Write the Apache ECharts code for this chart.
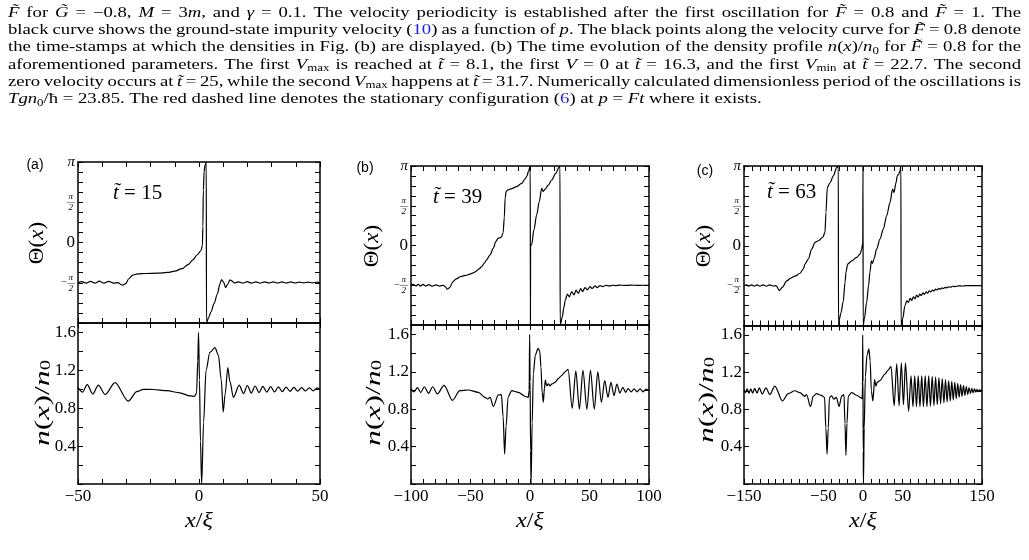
<!DOCTYPE html>
<html>
<head>
<meta charset="utf-8">
<script src="https://cdn.jsdelivr.net/npm/echarts@6/dist/echarts.min.js"></script>
<style>
  html, body { margin: 0; padding: 0; background: #fff; }
  #chart { width: 1029px; height: 560px; }
</style>
</head>
<body>
<div id="chart"></div>
<script>
// ---- data (phase in units of pi) ----
const phaseA = [
  [-50,-0.5],[-48.4,-0.486],[-46.6,-0.504],[-44.8,-0.483],[-43,-0.504],[-41.2,-0.481],[-39.3,-0.504],[-37.3,-0.483],[-35.3,-0.505],[-33.6,-0.498],[-31.7,-0.53],[-30.3,-0.512],[-29,-0.45],[-27.4,-0.405],[-25.4,-0.39],[-22,-0.385],[-17,-0.381],[-13,-0.372],[-10,-0.356],[-7,-0.325],[-4.5,-0.275],[-2.5,-0.215],[-0.8,-0.155],[0.8,-0.1],[1.4,-0.04],[1.6,0.2],[1.8,0.65],[2.1,0.88],[2.5,0.96],[3,1],
  [3.1,-1],[4,-0.93],[5,-0.86],[6.2,-0.76],[7.6,-0.64],[8.6,-0.52],[9.3,-0.46],[10.1,-0.49],[11,-0.56],[11.8,-0.52],[12.8,-0.465],[13.7,-0.48],[14.6,-0.502],
  [16.3,-0.488],[18.1,-0.505],[19.9,-0.487],[21.7,-0.504],[23.5,-0.488],[25.3,-0.504],[27.1,-0.489],[28.9,-0.503],[30.7,-0.49],[32.5,-0.503],[34.3,-0.49],[36.1,-0.503],[37.9,-0.49],[39.7,-0.503],[41.5,-0.491],[43.3,-0.502],[45.1,-0.491],[46.9,-0.502],[48.7,-0.492],[50,-0.498]
];
const densA = [
  [-50,1.02],[-48.1,0.97],[-46.2,1.05],[-43.9,0.95],[-41.6,1.045],[-38.8,0.945],[-34.7,1.07],[-29.2,0.875],[-25.7,0.975],[-23,1.0],[-18.9,0.998],[-13.3,0.985],[-7.9,0.963],[-3.7,0.93],[-1.9,0.925],[-1,0.96],[-0.5,1.3],[-0.2,1.6],[0.2,1.1],[0.6,0.45],[1.1,0],[1.9,0.65],[2.9,1.2],[4.5,1.39],[6.6,1.44],[8,1.36],[9.2,1.1],[10,0.76],[10.8,0.95],[11.9,1.23],[12.8,1.08],[14.2,0.915],
  [16.6,1.045],[18.4,0.955],[20,1.04],[21.6,0.96],[23.2,1.035],[24.8,0.965],[26.4,1.03],[28,0.97],[29.6,1.028],[31.2,0.972],[32.8,1.025],[34.4,0.975],[36,1.022],[37.6,0.978],[39.2,1.02],[40.8,0.98],[42.4,1.018],[44,0.982],[45.6,1.016],[47.2,0.984],[48.8,1.015],[50,0.995]
];
const phaseB = [
  [-100,-0.5],[-98,-0.488],[-96,-0.508],[-94,-0.49],[-92,-0.51],[-90,-0.49],[-87.5,-0.51],[-85,-0.492],[-82,-0.512],[-79,-0.495],[-76,-0.51],[-73,-0.5],[-71,-0.52],[-69.5,-0.55],[-67.5,-0.53],[-65,-0.46],[-62,-0.42],[-58,-0.39],[-54,-0.375],[-50.4,-0.36],[-47,-0.34],[-44.8,-0.318],[-42.5,-0.29],[-40.6,-0.264],[-38.5,-0.225],[-36.4,-0.18],[-33.6,-0.117],[-30.8,-0.033],[-28.8,0.05],[-26.6,0.092],[-24,0.105],[-22.6,0.16],[-21.6,0.35],[-20.9,0.6],[-20,0.68],[-18.5,0.7],[-15.4,0.715],[-11.2,0.741],[-7,0.782],[-4.5,0.83],[-2.8,0.866],[-1.2,0.935],[0.2,1],
  [0.35,-1],[0.5,0],[1.4,0.01],[3.3,0.197],[5.6,0.385],[7.8,0.552],[9.8,0.72],[11,0.68],[12.6,0.707],[15.4,0.76],[18.2,0.824],[21.6,0.908],[24.6,0.99],[25.2,1],
  [25.35,-1],[27.1,-0.9],[28.5,-0.777],[29.6,-0.69],[31.4,-0.612],[33.1,-0.645],[35,-0.579],[37,-0.62],[38.7,-0.562],[40.6,-0.604],[42.6,-0.541],[44.3,-0.579],[46.2,-0.529],[48.2,-0.558],[50.4,-0.517],[52.3,-0.541],[54.6,-0.508],[56.5,-0.529],[58.8,-0.504],[61,-0.517],[63.8,-0.5],[66.6,-0.51],[69.5,-0.5],[72,-0.505],[75,-0.498],[80,-0.502],[85,-0.499],[90,-0.501],[95,-0.5],[100,-0.5]
];
const densB = [
  [-100,1.016],[-97.5,0.985],[-94.6,1.03],[-91.8,0.978],[-88.8,1.04],[-85.2,0.97],[-81.8,1.04],[-77.9,0.963],[-72.2,1.055],[-65.2,0.895],[-59,0.998],[-52,1.005],[-43.4,0.98],[-37.8,0.927],[-35.6,0.909],[-33.6,0.927],[-30.8,0.83],[-26.6,0.952],[-24,0.955],[-22.6,0.72],[-21.3,0.32],[-20.1,0.62],[-18.4,0.93],[-15.4,0.998],[-9.8,0.98],[-4.2,0.938],[-1.4,0.927],[-0.7,1.0],[-0.3,1.6],[0.1,1.1],[0.5,0.35],[0.9,0],[1.8,0.65],[2.8,1.18],[4.5,1.38],[6.8,1.45],[8.2,1.42],[9.2,1.25],[10.2,0.98],[11.2,0.875],[12.1,1.02],[12.9,1.11],[14,1.05],[15.4,1.07],[16.8,1.05],[18.5,1.07],[21,1.087],[24,1.13],[26.6,1.16],[29.5,1.2],[32,1.225],
  [35.5,0.81],[38.5,1.21],[41.5,0.8],[44.5,1.215],[47.8,0.8],[50.8,1.215],[54,0.8],[57,1.2],[60,0.873],[62.8,1.105],[65.5,0.927],[68,1.087],[70.6,0.945],[73,1.069],[75.5,0.973],[78,1.034],[80.3,0.98],[82.5,1.02],[85,0.985],[87.5,1.018],[90,0.986],[92.5,1.016],[95,0.986],[97.5,1.015],[100,1.0]
];
const phaseC = [
  [-150,-0.5],[-147,-0.49],[-144,-0.508],[-140.5,-0.49],[-137,-0.508],[-133.5,-0.49],[-130,-0.508],[-126,-0.49],[-122,-0.508],[-117.5,-0.49],[-113,-0.505],[-109.5,-0.5],[-105.5,-0.562],[-101.5,-0.52],[-96.2,-0.44],[-91,-0.405],[-85.7,-0.38],[-79.4,-0.345],[-75.2,-0.29],[-73.1,-0.229],[-68.9,-0.167],[-64.7,-0.042],[-60.5,0.042],[-56.3,0.0625],[-50.9,0.104],[-47.9,0.167],[-46.7,0.417],[-45,0.729],[-41.6,0.79],[-37.4,0.875],[-33.2,0.98],[-31.1,1],
  [-30.9,-1],[-29.9,-0.925],[-27.8,-0.84],[-25,-0.7],[-22.5,-0.45],[-21.5,-0.33],[-19.3,-0.23],[-14.2,-0.19],[-7.9,-0.146],[-3.7,-0.104],[-1.6,-0.042],[-0.3,0.04],[0,1],
  [0.2,-1],[1.7,-0.916],[4.6,-0.71],[7,-0.5],[8.8,-0.33],[10.5,-0.19],[12,-0.22],[14,-0.16],[17.2,-0.04],[21.4,0.083],[25.6,0.208],[29.8,0.375],[34,0.54],[37.3,0.71],[39,0.667],[41.6,0.79],[43.2,0.875],[44.9,0.896],[46.6,0.94],[47.8,1],
  [48,-1],[50,-0.916],[52.9,-0.75],[55.1,-0.69],[57.2,-0.71],[59.5,-0.66],[61.5,-0.685],[63.5,-0.64],[65.5,-0.665],[67.5,-0.62],[69.5,-0.645],[71.5,-0.605],[73.5,-0.625],[75.5,-0.59],[77.5,-0.61],[79.5,-0.578],[81.5,-0.595],[83.5,-0.565],[85.5,-0.58],[87.5,-0.555],[89.5,-0.567],[91.5,-0.545],[93.5,-0.555],[95.5,-0.535],[97.5,-0.545],[99.5,-0.528],[101.5,-0.536],[103.5,-0.522],[105.5,-0.528],[108,-0.515],[110.5,-0.52],[113,-0.508],[116,-0.512],[120,-0.503],[125,-0.505],[130,-0.5],[150,-0.5]
];
const densC = [
  [-150,1.01],[-148.2,0.98],[-146,1.02],[-143.7,0.975],[-141.5,1.02],[-139,0.975],[-136.5,1.025],[-133.5,0.975],[-130.8,1.03],[-127,0.965],[-122.4,1.03],[-117.4,0.96],[-111.1,1.05],[-101.5,0.89],[-94.3,0.97],[-85.9,1.0],[-79.6,0.98],[-73.3,0.94],[-71.2,0.96],[-66.1,0.83],[-62.8,0.94],[-58.6,0.97],[-52.3,0.95],[-48.5,0.93],[-46.8,0.6],[-45.3,0.32],[-43.8,0.6],[-42.3,0.93],[-39.6,0.945],[-36.8,0.91],[-33.5,0.93],[-30.2,0.83],[-26.8,0.945],[-24,0.96],[-22.7,0.65],[-21.5,0.31],[-20.2,0.65],[-18.5,0.945],[-14.3,0.98],[-8,0.952],[-3,0.927],[-1,0.915],[-0.6,1.05],[-0.4,1.6],[0,1.1],[0.3,0.35],[0.6,0],[1.5,0.6],[3,1.15],[5,1.38],[7.5,1.45],[9,1.32],[10.5,1.0],[12.5,0.89],[14.6,1.12],[16.2,1.05],[17.8,1.09],[21.4,1.11],[27.7,1.18],[31.5,1.22],[35.3,1.26],
  [39.3,0.84],[42.5,1.29],[45.5,0.84],[48.3,1.3],[51,0.85],[53.5,1.3],[57.5,0.78],
  [60.5,1.16],[63,0.83],[65.2,1.16],[67.4,0.83],[69.6,1.16],[71.8,0.83],[74,1.16],[76.2,0.83],[78.4,1.16],[80.6,0.83],[82.8,1.16],[85,0.835],[87.2,1.155],[89.4,0.84],[91.5,1.15],[93.6,0.85],[95.7,1.14],[97.8,0.86],[99.9,1.13],[102,0.87],[104,1.12],[106,0.88],[108,1.11],[110,0.89],[111.9,1.1],[113.8,0.9],[115.7,1.09],[117.6,0.915],[119.4,1.08],[121.2,0.93],[123,1.065],[124.8,0.94],[126.6,1.055],[128.4,0.95],[130.2,1.045],[132,0.96],[133.7,1.035],[135.4,0.97],[137.1,1.025],[138.8,0.978],[140.5,1.02],[142.2,0.985],[143.9,1.015],[145.6,0.99],[147.3,1.01],[149,0.994],[150,1.004]
];

// tick labels shown on the x axes
const xLabelsA = [-50, 0, 50];
const xLabelsB = [-100, -50, 0, 50, 100];
const xLabelsC = [-150, -50, 0, 50, 150];
const timeLabels = ['15', '39', '63'];
const panelTags = ['(a)', '(b)', '(c)'];

const captionLines = [
  '{i|F̃} for {i|G̃} = −0.8, {i|M} = 3{i|m}, and {i|γ} = 0.1. The velocity periodicity is established after the first oscillation for {i|F̃} = 0.8 and {i|F̃} = 1. The',
  'black curve shows the ground-state impurity velocity ({b|10}) as a function of {i|p}. The black points along the velocity curve for {i|F̃} = 0.8 denote',
  'the time-stamps at which the densities in Fig. (b) are displayed. (b) The time evolution of the density profile {i|n}({i|x})/{i|n}{s|0} for {i|F̃} = 0.8 for the',
  'aforementioned parameters. The first {i|V}{s|max} is reached at {i|t̃} = 8.1, the first {i|V} = 0 at {i|t̃} = 16.3, and the first {i|V}{s|min} at {i|t̃} = 22.7. The second',
  'zero velocity occurs at {i|t̃} = 25, while the second {i|V}{s|max} happens at {i|t̃} = 31.7. Numerically calculated dimensionless period of the oscillations is',
  '{i|Tgn}{s|0}/ħ = 23.85. The red dashed line denotes the stationary configuration ({b|6}) at {i|p} = {i|Ft} where it exists.'
];

// ---- layout ----
const SERIF = 'Liberation Serif';
const panels = [
  { left: 78,  width: 242, top: 162, mid: 323,   bottom: 484, xMin: -50,  xMax: 50,  xLabels: xLabelsA, phase: phaseA, dens: densA,
    tag: [35, 165], time: [113, 193], theta: [37, 243], nlab: [43, 403], xlab: [199, 521] },
  { left: 411, width: 238, top: 166, mid: 325,   bottom: 484, xMin: -100, xMax: 100, xLabels: xLabelsB, phase: phaseB, dens: densB,
    tag: [365, 168], time: [433, 197], theta: [372, 246], nlab: [374, 403], xlab: [530, 521] },
  { left: 744, width: 238, top: 166, mid: 325.5, bottom: 484, xMin: -150, xMax: 150, xLabels: xLabelsC, phase: phaseC, dens: densC,
    tag: [705, 171], time: [767, 192], theta: [704, 246], nlab: [707, 400], xlab: [863, 521] }
];

const CAP = 14.5;
const capRich = {
  r: { fontFamily: SERIF, fontSize: CAP, fontStyle: 'normal', fill: '#000', lineHeight: 17 },
  i: { fontFamily: SERIF, fontSize: CAP, fontStyle: 'italic', fill: '#000', lineHeight: 17 },
  b: { fontFamily: SERIF, fontSize: CAP, fontStyle: 'normal', fill: '#1a1aee', lineHeight: 17 },
  s: { fontFamily: SERIF, fontSize: 10, fontStyle: 'normal', fill: '#000', lineHeight: 9, verticalAlign: 'bottom' }
};

const ctx = document.createElement('canvas').getContext('2d');
function tokWidth(t) {
  const st = capRich[t.s];
  ctx.font = st.fontStyle + ' ' + st.fontSize + 'px "' + st.fontFamily + '"';
  return ctx.measureText(t.t).width;
}
function parseWord(w) {
  const out = [];
  const re = /\{(\w)\|([^}]*)\}|([^{]+)/g;
  let m;
  while ((m = re.exec(w))) {
    if (m[1]) out.push({ s: m[1], t: m[2] });
    else out.push({ s: 'r', t: m[3] });
  }
  return out;
}

// justified caption: one text element per word, glyphs widened like the scan
function captionElements() {
  const els = [];
  const x0 = 8, x1 = 1021, y0 = 13, step = 17.3, minGap = 3.6;
  const lines = captionLines.map(l => l.split(' ').map(parseWord));
  const widths = lines.map(ws => ws.map(w => w.reduce((a, t) => a + tokWidth(t), 0)));
  const totals = widths.map(ws => ws.reduce((a, b) => a + b, 0));
  let sx = Infinity;
  lines.forEach((ws, li) => {
    if (li === lines.length - 1) return;
    sx = Math.min(sx, (x1 - x0 - minGap * (ws.length - 1)) / totals[li]);
  });
  lines.forEach((ws, li) => {
    const last = li === lines.length - 1;
    const gap = last ? sx * tokWidth({ s: 'r', t: ' ' }) : (x1 - x0 - sx * totals[li]) / (ws.length - 1);
    let x = x0;
    ws.forEach((w, wi) => {
      els.push({
        type: 'text', x: x, y: y0 + li * step, scaleX: sx, silent: true,
        style: { text: w.map(t => '{' + t.s + '|' + t.t + '}').join(''), rich: capRich, align: 'left', verticalAlign: 'middle' }
      });
      x += sx * widths[li][wi] + gap;
    });
  });
  return els;
}

const lblRich = {
  r: { fontFamily: SERIF, fontSize: 21, fontStyle: 'normal', fill: '#000' },
  i: { fontFamily: SERIF, fontSize: 21, fontStyle: 'italic', fill: '#000' },
  s: { fontFamily: SERIF, fontSize: 14, fontStyle: 'normal', fill: '#000', verticalAlign: 'bottom', lineHeight: 12 }
};
const nRich = {
  r: { fontFamily: SERIF, fontSize: 26, fontStyle: 'normal', fill: '#000' },
  i: { fontFamily: SERIF, fontSize: 26, fontStyle: 'italic', fill: '#000' },
  s: { fontFamily: SERIF, fontSize: 17, fontStyle: 'normal', fill: '#000', verticalAlign: 'bottom', lineHeight: 14 }
};

function panelElements() {
  const els = [];
  panels.forEach((pn, p) => {
    els.push({ type: 'text', x: pn.tag[0], y: pn.tag[1], silent: true,
      style: { text: panelTags[p], fontFamily: 'Liberation Sans', fontSize: 14, fill: '#000', align: 'center', verticalAlign: 'middle' } });
    els.push({ type: 'text', x: pn.time[0], y: pn.time[1], silent: true,
      style: { text: '{i|t̃}{r| = ' + timeLabels[p] + '}', rich: lblRich, align: 'left', verticalAlign: 'middle' } });
    els.push({ type: 'text', x: pn.theta[0], y: pn.theta[1], rotation: Math.PI / 2, scaleX: 1.1, silent: true,
      style: { text: '{r|Θ(}{i|x}{r|)}', rich: lblRich, align: 'center', verticalAlign: 'middle' } });
    els.push({ type: 'text', x: pn.nlab[0], y: pn.nlab[1], rotation: Math.PI / 2, scaleX: 1.22, scaleY: 0.82, silent: true,
      style: { text: '{i|n}{r|(}{i|x}{r|)/}{i|n}{s|0}', rich: nRich, align: 'center', verticalAlign: 'middle' } });
    els.push({ type: 'text', x: pn.xlab[0], y: pn.xlab[1], scaleX: 1.15, silent: true,
      style: { text: '{i|x}{r|/}{i|ξ}', rich: lblRich, align: 'center', verticalAlign: 'middle' } });
  });
  return els;
}

function fmtNum(v) { return v < 0 ? '−' + (-v) : String(v); }

function phaseTick(v) {
  const k = Math.round(v * 8);
  if (k === 8) return '{p|π}';
  if (k === 4) return '{f|π}\n{l|—}\n{f|2}';
  if (k === 0) return '{z|0}';
  if (k === -4) return '{f|π}\n{m|−}{l|—}\n{f|2}';
  return '';
}
function densTick(v) {
  const r = Math.round(v * 10);
  return (r % 4 === 0 && r > 0 && r <= 16) ? (r / 10).toFixed(1) : '';
}
const phaseRich = {
  p: { fontFamily: SERIF, fontSize: 15, fontStyle: 'italic', color: '#000' },
  z: { fontFamily: SERIF, fontSize: 17, color: '#000' },
  f: { fontFamily: SERIF, fontSize: 9, fontStyle: 'italic', color: '#000', lineHeight: 8, padding: [0, 2, 0, 0] },
  l: { fontFamily: SERIF, fontSize: 8, color: '#000', lineHeight: 3 },
  m: { fontFamily: SERIF, fontSize: 10, color: '#000', lineHeight: 3 }
};

const grids = [], xAxes = [], yAxes = [], series = [];
const axisLine = { onZero: false, lineStyle: { color: '#000', width: 1.5 } };
const axisTick = { inside: true, length: 5, lineStyle: { color: '#000', width: 1 } };

panels.forEach((pn) => {
  [['phase', pn.top, pn.mid], ['dens', pn.mid, pn.bottom]].forEach(([kind, t, b]) => {
    const g = grids.length;
    const isDens = kind === 'dens';
    grids.push({ left: pn.left, top: t, width: pn.width, height: b - t, containLabel: false, outerBoundsMode: 'none' });
    ['bottom', 'top'].forEach(pos => xAxes.push({
      gridIndex: g, type: 'value', position: pos, min: pn.xMin, max: pn.xMax, interval: 10,
      axisLine: axisLine, axisTick: axisTick, splitLine: { show: false },
      axisLabel: { show: isDens && pos === 'bottom', showMinLabel: true, showMaxLabel: true, margin: 4,
        fontFamily: SERIF, fontSize: 17, color: '#000',
        formatter: v => pn.xLabels.indexOf(Math.round(v)) >= 0 ? fmtNum(Math.round(v)) : '' }
    }));
    ['left', 'right'].forEach(pos => yAxes.push(isDens ? {
      gridIndex: g, type: 'value', position: pos, min: 0, max: 1.7, interval: 0.2,
      axisLine: axisLine, axisTick: axisTick, splitLine: { show: false },
      axisLabel: { show: pos === 'left', margin: 2, fontFamily: SERIF, fontSize: 17, color: '#000',
        showMinLabel: true, showMaxLabel: true, formatter: densTick }
    } : {
      gridIndex: g, type: 'value', position: pos, min: -1, max: 1, interval: 0.125,
      axisLine: axisLine, axisTick: axisTick, splitLine: { show: false },
      axisLabel: { show: pos === 'left', margin: 3, showMinLabel: true, showMaxLabel: true,
        formatter: phaseTick, rich: phaseRich }
    }));
    series.push({
      type: 'line', xAxisIndex: 2 * g, yAxisIndex: 2 * g,
      data: isDens ? pn.dens : pn.phase,
      showSymbol: false, smooth: 0.3, smoothMonotone: 'x', silent: true,
      lineStyle: { color: '#000', width: 1.2 }
    });
  });
});

const chart = echarts.init(document.getElementById('chart'));
chart.setOption({
  backgroundColor: '#fff',
  animation: false,
  grid: grids,
  xAxis: xAxes,
  yAxis: yAxes,
  series: series,
  graphic: { elements: captionElements().concat(panelElements()) }
});
</script>
</body>
</html>
